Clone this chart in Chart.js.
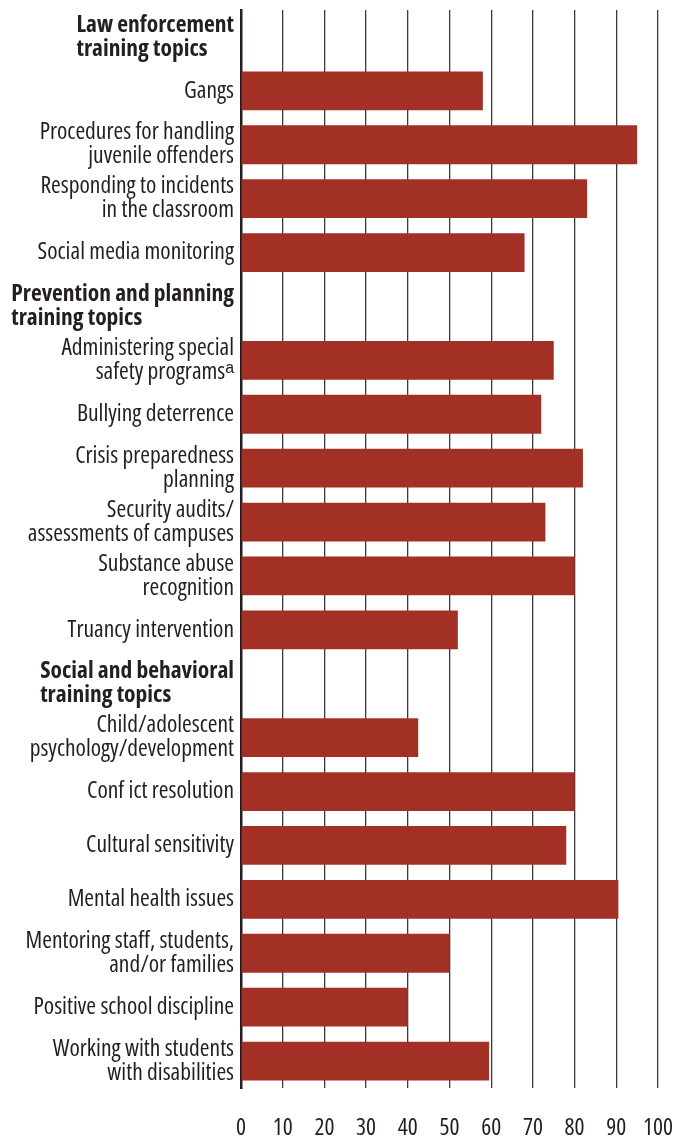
<!DOCTYPE html>
<html>
<head>
<meta charset="utf-8">
<script src="https://cdn.jsdelivr.net/npm/chart.js@4/dist/chart.umd.min.js"></script>
<style>
  html, body { margin: 0; padding: 0; background: #ffffff; }
  #wrap { width: 689px; height: 1138px; position: relative; }
</style>
</head>
<body>
<div id="wrap"><canvas id="c"></canvas></div>
<script>
const categories = [
  ['Law enforcement', 'training topics'],
  ['Gangs'],
  ['Procedures for handling', 'juvenile offenders'],
  ['Responding to incidents', 'in the classroom'],
  ['Social media monitoring'],
  ['Prevention and planning', 'training topics'],
  ['Administering special', 'safety programs\u1D43'],
  ['Bullying deterrence'],
  ['Crisis preparedness', 'planning'],
  ['Security audits/', 'assessments of campuses'],
  ['Substance abuse', 'recognition'],
  ['Truancy intervention'],
  ['Social and behavioral', 'training topics'],
  ['Child/adolescent', 'psychology/development'],
  ['Conf ict resolution'],
  ['Cultural sensitivity'],
  ['Mental health issues'],
  ['Mentoring staff, students,', 'and/or families'],
  ['Positive school discipline'],
  ['Working with students', 'with disabilities']
];
const isHeader = [true, false, false, false, false, true, false, false, false, false, false, false, true, false, false, false, false, false, false, false];
const values = [null, 58, 95, 83, 68, null, 75, 72, 82, 73, 80, 52, null, 42.5, 80, 78, 90.5, 50, 40, 59.5];
const xTicks = [0, 10, 20, 30, 40, 50, 60, 70, 80, 90, 100];

const FONT = '"Open Sans", "Roboto Condensed", sans-serif';
const TEXT = '#231f20';
const FS = 23.5;
const LH = 24;

const headerPlugin = {
  id: 'headers',
  afterDraw(chart) {
    const ctx = chart.ctx;
    const ys = chart.scales.y;
    ctx.save();
    ctx.font = 'condensed bold ' + FS + 'px ' + FONT;
    ctx.fillStyle = TEXT;
    ctx.textAlign = 'left';
    ctx.textBaseline = 'middle';
    categories.forEach((lines, i) => {
      if (!isHeader[i]) return;
      const cy = ys.getPixelForValue(i);
      let maxW = 0;
      lines.forEach(l => { maxW = Math.max(maxW, ctx.measureText(l).width); });
      const x = ys.right - 7 - maxW;
      lines.forEach((l, k) => {
        ctx.fillText(l, x, cy + (k - (lines.length - 1) / 2) * LH);
      });
    });
    ctx.restore();
  }
};

new Chart(document.getElementById('c'), {
  type: 'bar',
  data: {
    labels: categories,
    datasets: [{
      data: values,
      backgroundColor: '#a33025',
      borderWidth: 0,
      barPercentage: 0.72,
      categoryPercentage: 1.0
    }]
  },
  options: {
    indexAxis: 'y',
    responsive: true,
    maintainAspectRatio: false,
    animation: false,
    devicePixelRatio: 1,
    layout: { padding: { left: 0, right: 31, top: 10, bottom: 0 } },
    plugins: { legend: { display: false }, tooltip: { enabled: false } },
    scales: {
      y: {
        type: 'category',
        offset: true,
        grid: { display: false, drawTicks: false },
        border: { display: true, color: '#231f20', width: 2.5 },
        ticks: {
          autoSkip: false,
          padding: 7,
          color: TEXT,
          font: { family: FONT, size: FS, weight: 'condensed', lineHeight: LH / FS },
          callback: function (v, i) { return isHeader[i] ? '' : categories[i]; }
        },
        afterFit: function (s) {
          s.width = 241;
          s.paddingTop = 0; s.paddingBottom = 0;
        }
      },
      x: {
        type: 'linear',
        min: 0,
        max: 100,
        afterBuildTicks: function (s) { s.ticks = xTicks.map(v => ({ value: v })); },
        grid: { color: '#3a3a3a', lineWidth: 1.3, drawTicks: false },
        border: { display: false },
        ticks: {
          padding: 26,
          color: TEXT,
          font: { family: FONT, size: FS, weight: 'condensed' },
          maxRotation: 0
        },
        afterFit: function (s) {
          s.height = 50;
          s.paddingLeft = 0; s.paddingRight = 0;
        }
      }
    }
  },
  plugins: [headerPlugin]
});
</script>
</body>
</html>
